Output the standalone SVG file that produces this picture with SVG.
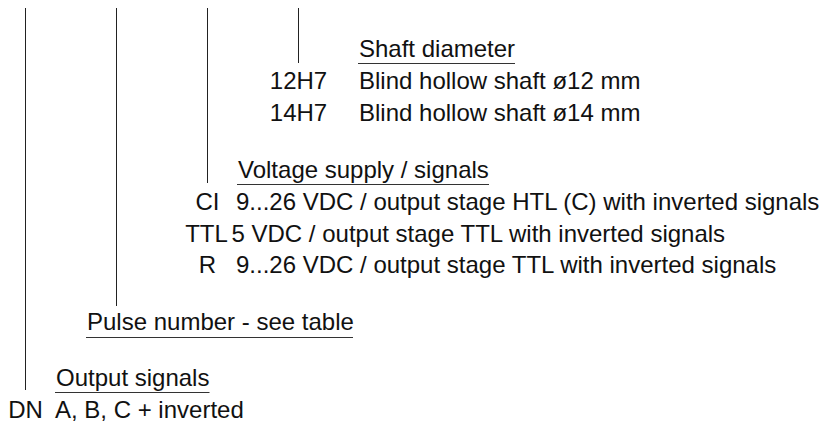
<svg xmlns="http://www.w3.org/2000/svg" width="824" height="426" viewBox="0 0 824 426">
<style>
text{font-family:"Liberation Sans",Arial,Helvetica,sans-serif;font-size:24px;fill:#111}
.c{text-anchor:middle}
.ln{stroke:#222;stroke-width:1;fill:none}
.ul{stroke:#333;stroke-width:1.2;fill:none}
</style>
<rect width="824" height="426" fill="#fff"/>
<g id="connectors">
<line class="ln" x1="25.5" y1="8" x2="25.5" y2="390"/>
<line class="ln" x1="116.5" y1="8" x2="116.5" y2="306"/>
<line class="ln" x1="207.5" y1="8" x2="207.5" y2="183"/>
<line class="ln" x1="298.5" y1="8" x2="298.5" y2="63"/>
</g>
<g id="shaft">
<text x="359" y="57">Shaft diameter</text>
<line class="ul" x1="358" y1="63.5" x2="515" y2="63.5"/>
<text class="c" x="298.5" y="89">12H7</text>
<text x="359" y="89">Blind hollow shaft ø12 mm</text>
<text class="c" x="298.5" y="121">14H7</text>
<text x="359" y="121">Blind hollow shaft ø14 mm</text>
</g>
<g id="voltage">
<text x="238" y="178">Voltage supply / signals</text>
<line class="ul" x1="237" y1="184.5" x2="489" y2="184.5"/>
<text class="c" x="207.5" y="210">CI</text>
<text x="236" y="210">9...26 VDC / output stage HTL (C) with inverted signals</text>
<text class="c" x="206.5" y="241.5">TTL</text>
<text x="231.5" y="241.5">5 VDC / output stage TTL with inverted signals</text>
<text class="c" x="207.5" y="273">R</text>
<text x="236" y="273">9...26 VDC / output stage TTL with inverted signals</text>
</g>
<g id="pulse">
<text x="87" y="330">Pulse number - see table</text>
<line class="ul" x1="86" y1="337.5" x2="353" y2="337.5"/>
</g>
<g id="output">
<text x="56" y="386">Output signals</text>
<line class="ul" x1="55" y1="392.5" x2="209.5" y2="392.5"/>
<text class="c" x="25.5" y="418">DN</text>
<text x="55" y="418">A, B, C + inverted</text>
</g>
</svg>
